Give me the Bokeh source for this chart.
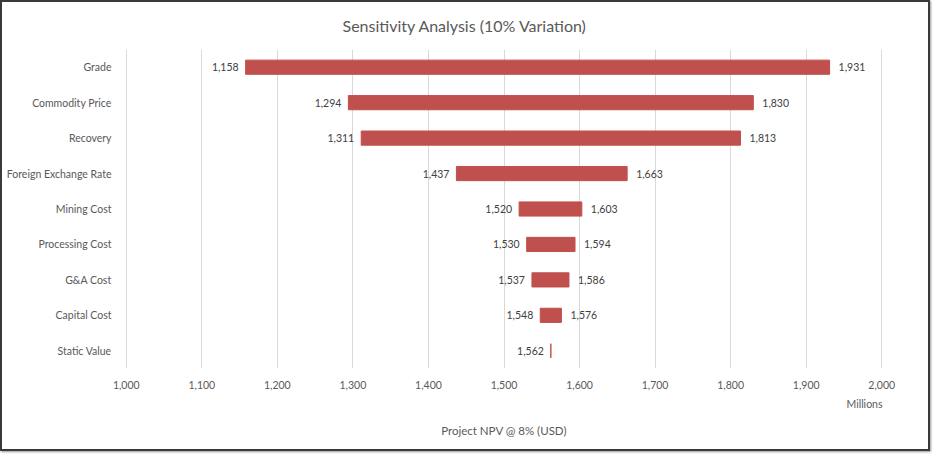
from bokeh.plotting import figure
from bokeh.models import (ColumnDataSource, Range1d, FactorRange, FixedTicker,
                          NumeralTickFormatter, Title)
from bokeh.embed import file_html
from bokeh.resources import INLINE
from bokeh.core.properties import value

# ---- data ----
categories = ["Grade", "Commodity Price", "Recovery", "Foreign Exchange Rate",
              "Mining Cost", "Processing Cost", "G&A Cost", "Capital Cost", "Static Value"]
low_values = [1158, 1294, 1311, 1437, 1520, 1530, 1537, 1548, 1562]
high_values = [1931, 1830, 1813, 1663, 1603, 1594, 1586, 1576, 1562]
x_ticks = [1000, 1100, 1200, 1300, 1400, 1500, 1600, 1700, 1800, 1900, 2000]

FONT = "Lato"
BAR = "#C0504D"
TXT = "#595959"
SMALL = "10.5px"

low_lbl = [f"{v:,}" for v in low_values]
high_lbl = [f"{h:,}" if h != l else "" for l, h in zip(low_values, high_values)]

src = ColumnDataSource(dict(cat=categories, low=low_values, high=high_values,
                            low_lbl=low_lbl, high_lbl=high_lbl))

p = figure(y_range=FactorRange(factors=list(reversed(categories))),
           x_range=Range1d(999, 2001),
           width=930, height=451,
           min_border_left=123, min_border_right=50,
           min_border_top=46, min_border_bottom=85,
           output_backend="svg", toolbar_location=None)

p.title = Title(text="Sensitivity Analysis (10% Variation)", align="left",
                vertical_align="top",
                text_font=FONT, text_font_size="16px", text_font_style="normal",
                text_color=TXT, offset=217, standoff=26)

p.hbar(y="cat", left="low", right="high", height=0.4, source=src,
       fill_color=BAR, line_color=BAR, line_width=1)

p.text(x="low", y="cat", text="low_lbl", source=src, x_offset=-7,
       text_align="right", text_baseline="middle",
       text_font=value(FONT), text_font_size=SMALL, text_color="#404040")
p.text(x="high", y="cat", text="high_lbl", source=src, x_offset=9,
       text_align="left", text_baseline="middle",
       text_font=value(FONT), text_font_size=SMALL, text_color="#404040")

# axes
p.xaxis.ticker = FixedTicker(ticks=x_ticks)
p.xaxis.formatter = NumeralTickFormatter(format="0,0")
for ax in (p.xaxis, p.yaxis):
    ax.axis_line_color = None
    ax.major_tick_line_color = None
    ax.minor_tick_line_color = None
    ax.major_label_text_font = FONT
    ax.major_label_text_font_size = SMALL
    ax.major_label_text_color = TXT
p.xaxis.major_label_standoff = 6
p.yaxis.major_label_standoff = 8

p.xgrid.grid_line_color = "#D9D9D9"
p.ygrid.grid_line_color = None
p.outline_line_color = None

p.add_layout(Title(text="Millions", align="right", text_font=FONT,
                   text_font_size=SMALL, text_font_style="normal",
                   text_color=TXT, standoff=8), "below")
p.add_layout(Title(text="Project NPV @ 8% (USD)", align="center", text_font=FONT,
                   text_font_size="11.5px", text_font_style="normal",
                   text_color=TXT, standoff=16), "below")

p.styles = {"border": "2px solid #3a3a3a", "box-shadow": "1px 1px 2px #999"}

open("out.html", "w").write(file_html(p, INLINE))
